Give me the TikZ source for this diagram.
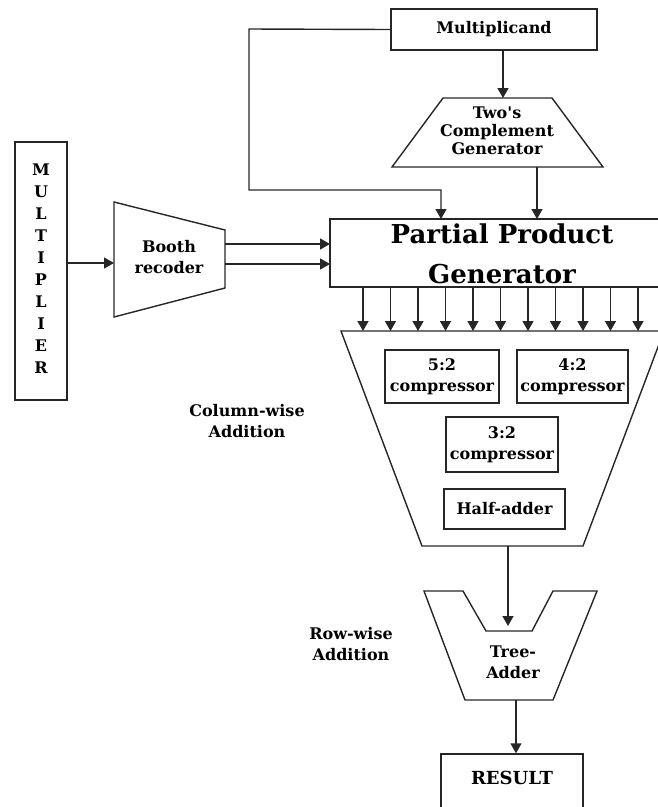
\documentclass[tikz,border=0pt]{standalone}
\usepackage{fontspec}
\setmainfont{DejaVu Serif}
\usetikzlibrary{arrows.meta}
\begin{document}
\begin{tikzpicture}[x=1pt,y=-1pt,
  ln/.style={draw=black!85,line width=1.4pt},
  arr/.style={ln,-{Triangle[length=10pt,width=11pt]}},
  lbl/.style={font=\fontsize{16}{21}\selectfont\bfseries,align=center,inner sep=0pt},
  bigl/.style={font=\fontsize{26}{40}\selectfont\bfseries,align=center,inner sep=0pt},
  boxn/.style={draw=black!85,line width=1.4pt,lbl,inner sep=0pt}]
\useasboundingbox (0,0) rectangle (658,807);
\clip (0,0) rectangle (658,807);
% Multiplicand
\node[boxn,minimum width=206pt,minimum height=41pt] (mcand) at (494,29.5) {Multiplicand};
% Two's complement generator
\draw[ln] (443,98) -- (552,98) -- (603,167) -- (392,167) -- cycle;
\node[lbl,font=\fontsize{16}{18}\selectfont\bfseries] (tcg) at (497,131) {Two\textquotesingle s\\Complement\\Generator};
\coordinate (tcgtop) at (503,98);
\coordinate (tcgbot) at (537,167);
% Partial product generator
\node[boxn,minimum width=344pt,minimum height=68pt] (ppg) at (502,253) {};
\node[bigl] (ppgt) at (502,254) {Partial Product\\Generator};
\coordinate (ppgin1) at (441,219);
\coordinate (ppgin2) at (537,219);
\coordinate (loopa) at (249,29);
\coordinate (loopb) at (249,190);
\coordinate (loopc) at (441,190);
% Multiplier
\node[boxn,minimum width=52pt,minimum height=258pt] (mult) at (41,271) {};
\foreach \c [count=\i from 0] in {M,U,L,T,I,P,L,I,E,R}
  \node[lbl] (m\i) at (41,{170+22*\i}) {\c};
% Booth recoder
\draw[ln] (114,202) -- (225,230) -- (225,288) -- (114,317) -- cycle;
\node[lbl] (booth) at (169,257) {Booth\\recoder};
\coordinate (bin) at (114,263);
\coordinate (bout1) at (225,244);
\coordinate (bout2) at (225,264);
\coordinate (pin1) at (330,244);
\coordinate (pin2) at (330,264);
% Column-wise adder trapezoid
\draw[ln] (341,331) -- (664,331) -- (583,546) -- (422,546) -- cycle;
\foreach \i in {0,...,10} {
  \coordinate (pa\i) at ({363+27.5*\i},287);
  \coordinate (pb\i) at ({363+27.5*\i},331);
  \draw[arr] (pa\i) -- (pb\i);
}
\node[boxn,minimum width=114pt,minimum height=53pt] (c52) at (442,376.5) {5:2\\compressor};
\node[boxn,minimum width=111pt,minimum height=53pt] (c42) at (572.5,376.5) {4:2\\compressor};
\node[boxn,minimum width=112pt,minimum height=55pt] (c32) at (502,444.5) {3:2\\compressor};
\node[boxn,minimum width=121pt,minimum height=40pt] (ha) at (504.5,509) {Half-adder};
\node[lbl] (colw) at (247,421) {Column-wise\\Addition};
\coordinate (cwbot) at (508,546);
% Tree adder
\draw[ln] (424,591) -- (463,591) -- (486,631) -- (532,631) -- (553,591) -- (597,591) -- (553,700) -- (465,700) -- cycle;
\coordinate (tain) at (508,626);
\coordinate (taout) at (516,700);
\node[lbl] (tree) at (513,662) {Tree-\\Adder};
\node[lbl] (roww) at (351,644) {Row-wise\\Addition};
% Result
\node[boxn,minimum width=142pt,minimum height=54pt] (res) at (512,781) {};
\node[lbl,font=\fontsize{18}{21}\selectfont\bfseries] (rest) at (512,778) {RESULT};
% connectors
\draw[arr] ([xshift=9pt]mcand.south) -- (tcgtop);
\draw[arr] (tcgbot) -- (ppgin2);
\draw[arr] (mcand.west) -- (loopa) -- (loopb) -- (loopc) -- (ppgin1);
\draw[arr] (mult.east |- bin) -- (bin);
\draw[arr] (bout1) -- (pin1);
\draw[arr] (bout2) -- (pin2);
\draw[arr] (cwbot) -- (tain);
\draw[arr] (taout) -- (res.north -| taout);
\end{tikzpicture}
\end{document}
